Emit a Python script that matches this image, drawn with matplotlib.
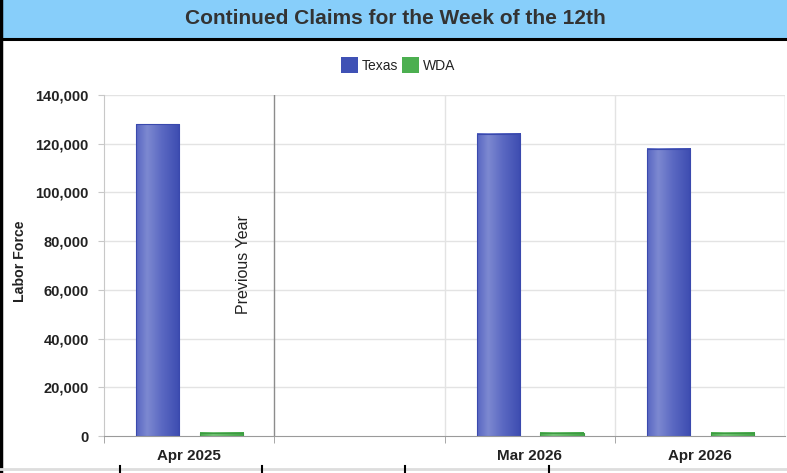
import numpy as np
import matplotlib
matplotlib.use("Agg")
import matplotlib.pyplot as plt
from matplotlib.colors import LinearSegmentedColormap
from matplotlib.patches import Rectangle
from matplotlib.lines import Line2D
import matplotlib.transforms as mtransforms

plt.rcParams['font.family'] = ['Liberation Sans', 'DejaVu Sans']

categories = ["Apr 2025", "", "Mar 2026", "Apr 2026"]
texas = [128000, np.nan, 124000, 118000]
wda = [1400, np.nan, 1400, 1400]
series_names = ["Texas", "WDA"]
series_colors = ["#3f51b5", "#4caf50"]
yticks = [0, 20000, 40000, 60000, 80000, 100000, 120000, 140000]

W, H = 787, 473
fig = plt.figure(figsize=(W / 100, H / 100), dpi=100)

# Title bar
fig.patches.append(Rectangle((0, 1 - 38 / H), 1, 38 / H, transform=fig.transFigure,
                             facecolor="#87cefa", edgecolor="none", zorder=0))
fig.add_artist(Line2D([0, 1], [1 - 39 / H, 1 - 39 / H], transform=fig.transFigure,
                      color="black", lw=2.2))
fig.add_artist(Line2D([1 / W, 1 / W], [0, 1], transform=fig.transFigure, color="black", lw=2.5))
fig.text(395 / W, 1 - 19 / H, "Continued Claims for the Week of the 12th", ha="center", va="center",
         fontsize=15, fontweight="bold", color="#333333")

# Bottom partial table
fig.add_artist(Line2D([0, 1], [1 - 469 / H, 1 - 469 / H], transform=fig.transFigure,
                      color="#dddddd", lw=2))
for xp in [120, 262, 405, 549]:
    fig.add_artist(Line2D([xp / W, xp / W], [0, 1 - 466 / H], transform=fig.transFigure,
                          color="black", lw=1.5))

ax = fig.add_axes([104 / W, 1 - 436 / H, 681 / W, 341 / H])
n = len(categories)
ax.set_xlim(-0.5, n - 0.5)
ax.set_ylim(0, 140000)

# gridlines
for yv in yticks[1:]:
    ax.axhline(yv, color="#e3e3e3", lw=1, zorder=0)
for b in np.arange(1.5, n, 1.0):
    ax.axvline(b, color="#e3e3e3", lw=1, zorder=0)
ax.axvline(n - 0.5, color="#e3e3e3", lw=1, zorder=0)
ax.axvline(0.5, color="#8c8c8c", lw=1, zorder=1)

blue_cmap = LinearSegmentedColormap.from_list("b", [(0, "#5866c2"), (0.25, "#7d89d1"), (0.6, "#5a68c2"), (1, "#3d4cb0")])
green_cmap = LinearSegmentedColormap.from_list("g", [(0, "#4aad4e"), (0.3, "#74c477"), (1, "#43a747")])

bw = 0.253
offsets = [-0.185, 0.19]
grad = np.linspace(0, 1, 64).reshape(1, -1)
for vals, off, cmap, ec in [(texas, offsets[0], blue_cmap, "#3a49ad"), (wda, offsets[1], green_cmap, "#3d9a41")]:
    for i, v in enumerate(vals):
        if np.isnan(v):
            continue
        x0 = i + off - bw / 2
        ax.imshow(grad, cmap=cmap, aspect="auto", extent=(x0, x0 + bw, 0, v), zorder=2,
                  interpolation="bilinear")
        ax.add_patch(Rectangle((x0, 0), bw, v, facecolor="none", edgecolor=ec, lw=0.8, zorder=3))
ax.set_xlim(-0.5, n - 0.5)
ax.set_ylim(0, 140000)

for s in ["top", "right"]:
    ax.spines[s].set_visible(False)
ax.spines["left"].set_color("#c8c8c8")
ax.spines["bottom"].set_color("#9a9a9a")

ax.set_yticks(yticks)
ax.set_yticklabels([f"{v:,}" for v in yticks], fontsize=10.5, fontweight="bold", color="#222222")
ax.tick_params(axis="y", length=4, color="#c8c8c8", pad=7)
ax.set_xticks(range(n))
ax.set_xticklabels(categories, fontsize=10.9, fontweight="bold", color="#222222")
ax.tick_params(axis="x", length=0, pad=9)
ax.set_xticks(np.arange(-0.5, n - 0.5, 1.0), minor=True)
ax.tick_params(axis="x", which="minor", length=5, color="#9a9a9a")

ax.set_ylabel("Labor Force", fontsize=10.2, fontweight="bold", color="#222222")
ax.yaxis.set_label_coords(-(104 - 27) / 681, (436 - 261) / 341)

trans = mtransforms.blended_transform_factory(ax.transData, ax.transAxes)
ax.text(0.5 - 0.18, (436 - 265) / 341, "Previous Year", rotation=90, ha="center", va="center",
        fontsize=11.5, color="#222222", transform=trans)

# Legend (drawn manually for exact square size)
leg_x = [341, 402]
for xs, name, col in zip(leg_x, series_names, series_colors):
    fig.patches.append(Rectangle((xs / W, 1 - 73 / H), 17 / W, 16 / H, transform=fig.transFigure,
                                 facecolor=col, edgecolor="none"))
    fig.text((xs + 21) / W, 1 - 65.5 / H, name, ha="left", va="center", fontsize=10, color="#222222")

fig.savefig("out.png", dpi=100)
